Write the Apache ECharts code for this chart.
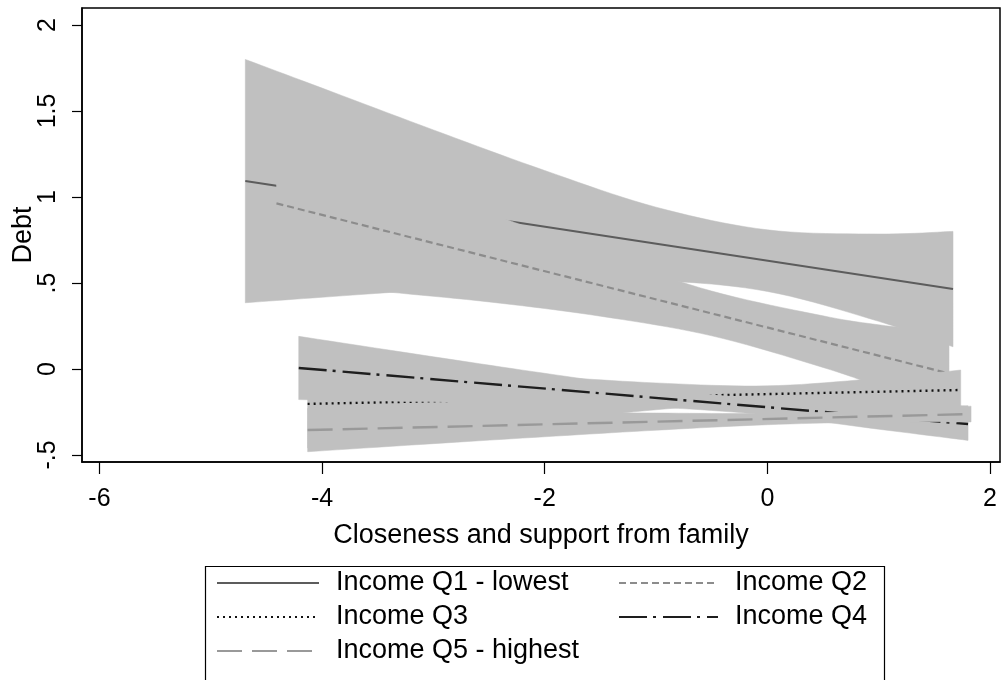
<!DOCTYPE html>
<html>
<head>
<meta charset="utf-8">
<title>Debt by closeness and support from family</title>
<script src="https://cdn.jsdelivr.net/npm/echarts@6/dist/echarts.min.js"></script>
<style>
  html, body { margin: 0; padding: 0; background: #ffffff; }
  #chart { width: 1003px; height: 680px; }
</style>
</head>
<body>
<div id="chart"></div>
<script>
// Axis ticks
const xTicks = [-6, -4, -2, 0, 2];
const xTickLabels = ['-6', '-4', '-2', '0', '2'];
const yTicks = [-0.5, 0, 0.5, 1, 1.5, 2];
const yTickLabels = ['-.5', '0', '.5', '1', '1.5', '2'];

// Income Q1 - lowest: confidence band and fitted line
const q1BandX = [-4.69, -4, -3, -2, -1, 0, 1, 1.668];
const q1Lower = [0.385, 0.417, 0.462, 0.500, 0.513, 0.451, 0.277, 0.129];
const q1Upper = [1.800, 1.633, 1.390, 1.154, 0.941, 0.809, 0.785, 0.800];
const q1FitX = [-4.69, 1.668];
const q1Fit = [1.093, 0.465];

// Income Q2
const q2BandX = [-4.41, -3.5, -2.5, -1.5, -0.5, 0.5, 1.0, 1.632];
const q2Lower = [0.523, 0.454, 0.390, 0.307, 0.193, 0.009, -0.103, -0.261];
const q2Upper = [1.403, 1.174, 0.910, 0.667, 0.453, 0.309, 0.257, 0.209];
const q2FitX = [-4.41, 1.632];
const q2Fit = [0.963, -0.026];

// Income Q3
const q3BandX = [-4.13, -3, -2, -1, 0, 1, 1.737];
const q3Lower = [-0.459, -0.376, -0.304, -0.237, -0.194, -0.210, -0.238];
const q3Upper = [0.053, 0.002, -0.042, -0.081, -0.098, -0.054, -0.006];
const q3FitX = [-4.13, 1.737];
const q3Fit = [-0.203, -0.122];

// Income Q4
const q4BandX = [-4.21, -3, -2, -1, 0, 1, 1.803];
const q4Lower = [-0.178, -0.191, -0.203, -0.222, -0.268, -0.350, -0.415];
const q4Upper = [0.190, 0.071, -0.025, -0.114, -0.176, -0.202, -0.214];
const q4FitX = [-4.21, 1.803];
const q4Fit = [0.006, -0.320];

// Income Q5 - highest
const q5BandX = [-4.13, -3, -2, -1, 0, 1, 1.83];
const q5Lower = [-0.481, -0.434, -0.394, -0.356, -0.324, -0.308, -0.308];
const q5Upper = [-0.229, -0.240, -0.250, -0.256, -0.258, -0.242, -0.216];
const q5FitX = [-4.13, 1.83];
const q5Fit = [-0.355, -0.262];

const FONT = "'Liberation Sans', Arial, Helvetica, sans-serif";
const BAND_COLOR = '#c0c0c0';

const groups = [
  { name: 'Income Q1 - lowest', bx: q1BandX, lo: q1Lower, hi: q1Upper, fx: q1FitX, fy: q1Fit,
    line: { color: '#5c5c5c', width: 2.2, type: 'solid' } },
  { name: 'Income Q2', bx: q2BandX, lo: q2Lower, hi: q2Upper, fx: q2FitX, fy: q2Fit,
    line: { color: '#8c8c8c', width: 2.2, type: [7, 4] } },
  { name: 'Income Q3', bx: q3BandX, lo: q3Lower, hi: q3Upper, fx: q3FitX, fy: q3Fit,
    line: { color: '#111111', width: 2.4, type: [2, 4] } },
  { name: 'Income Q4', bx: q4BandX, lo: q4Lower, hi: q4Upper, fx: q4FitX, fy: q4Fit,
    line: { color: '#1e1e1e', width: 2.4, type: [28, 6, 3, 7] } },
  { name: 'Income Q5 - highest', bx: q5BandX, lo: q5Lower, hi: q5Upper, fx: q5FitX, fy: q5Fit,
    line: { color: '#999999', width: 2.4, type: [25, 10] } }
];

// Catmull-Rom curve through already-projected pixel points, for a smooth band outline
function smoothEdge(pts, steps) {
  const out = [];
  for (let i = 0; i < pts.length - 1; i++) {
    const p0 = pts[Math.max(i - 1, 0)], p1 = pts[i], p2 = pts[i + 1], p3 = pts[Math.min(i + 2, pts.length - 1)];
    for (let s = 0; s < steps; s++) {
      const t = s / steps, t2 = t * t, t3 = t2 * t;
      out.push([
        0.5 * (2 * p1[0] + (-p0[0] + p2[0]) * t + (2 * p0[0] - 5 * p1[0] + 4 * p2[0] - p3[0]) * t2 + (-p0[0] + 3 * p1[0] - 3 * p2[0] + p3[0]) * t3),
        0.5 * (2 * p1[1] + (-p0[1] + p2[1]) * t + (2 * p0[1] - 5 * p1[1] + 4 * p2[1] - p3[1]) * t2 + (-p0[1] + 3 * p1[1] - 3 * p2[1] + p3[1]) * t3)
      ]);
    }
  }
  out.push(pts[pts.length - 1]);
  return out;
}

// Confidence band as one filled polygon: upper edge left to right, lower edge back
function bandRenderer(g) {
  return function (params, api) {
    const up = g.bx.map((x, k) => api.coord([x, g.hi[k]]));
    const lo = g.bx.map((x, k) => api.coord([x, g.lo[k]]));
    const pts = smoothEdge(up, 10).concat(smoothEdge(lo, 10).reverse());
    return {
      type: 'polygon',
      shape: { points: pts },
      style: { fill: BAND_COLOR, stroke: BAND_COLOR, lineWidth: 0.5 }
    };
  };
}

// Each group draws its band, then its fitted line, so later bands overlap earlier lines
const series = [];
groups.forEach((g, i) => {
  series.push({
    type: 'custom', name: g.name + ' band', silent: true, z: 10 + 2 * i,
    renderItem: bandRenderer(g),
    encode: { x: 0, y: 1 },
    data: [[g.bx[0], g.lo[0]]]
  });
  series.push({
    type: 'line', name: g.name, symbol: 'none', silent: true, z: 11 + 2 * i,
    lineStyle: { color: g.line.color, width: g.line.width, type: g.line.type, cap: 'butt' },
    itemStyle: { color: g.line.color },
    data: g.fx.map((x, k) => [x, g.fy[k]])
  });
});

function labelFor(ticks, labels) {
  return function (v) {
    for (let k = 0; k < ticks.length; k++) {
      if (Math.abs(ticks[k] - v) < 1e-9) return labels[k];
    }
    return '';
  };
}

const legendText = { fontFamily: FONT, fontSize: 27, color: '#000', lineHeight: 30, padding: [0, 0, 0, 12] };

const option = {
  animation: false,
  backgroundColor: '#ffffff',
  grid: {
    left: 82, right: 3, top: 8, bottom: 218, outerBoundsMode: 'none', containLabel: false,
    show: true, borderColor: '#000', borderWidth: 1.5, backgroundColor: 'transparent'
  },
  xAxis: {
    type: 'value', min: -6.157, max: 2.09,
    name: 'Closeness and support from family', nameLocation: 'middle', nameGap: 60, nameMoveOverlap: false,
    nameTextStyle: { fontFamily: FONT, fontSize: 27, color: '#000' },
    axisLine: { onZero: false, lineStyle: { color: '#000', width: 1.5 } },
    axisTick: { customValues: xTicks, length: 12, lineStyle: { color: '#000', width: 1.2 } },
    axisLabel: { customValues: xTicks, formatter: labelFor(xTicks, xTickLabels), margin: 25,
      fontFamily: FONT, fontSize: 25, color: '#000' },
    splitLine: { show: false }
  },
  yAxis: {
    type: 'value', min: -0.5407, max: 2.0988,
    name: 'Debt', nameLocation: 'middle', nameGap: 45, nameRotate: 90, nameMoveOverlap: false,
    nameTextStyle: { fontFamily: FONT, fontSize: 27, color: '#000' },
    axisLine: { onZero: false, lineStyle: { color: '#000', width: 1.5 } },
    axisTick: { customValues: yTicks, length: 10, lineStyle: { color: '#000', width: 1.2 } },
    axisLabel: { customValues: yTicks, formatter: labelFor(yTicks, yTickLabels), rotate: 90, margin: 21,
      fontFamily: FONT, fontSize: 25, color: '#000' },
    splitLine: { show: false }
  },
  legend: [
    {
      orient: 'vertical', left: 216, top: 568, padding: 0, itemGap: 4,
      itemWidth: 102, itemHeight: 14, selectedMode: false,
      itemStyle: { opacity: 0 },
      data: ['Income Q1 - lowest', 'Income Q3', 'Income Q5 - highest'],
      textStyle: legendText
    },
    {
      orient: 'vertical', left: 618, top: 568, padding: 0, itemGap: 4,
      itemWidth: 99, itemHeight: 14, selectedMode: false,
      itemStyle: { opacity: 0 },
      data: ['Income Q2', 'Income Q4'],
      textStyle: legendText
    }
  ],
  graphic: [
    { type: 'rect', silent: true, z: 0,
      shape: { x: 205.5, y: 566.5, width: 679, height: 140 },
      style: { fill: 'none', stroke: '#000', lineWidth: 1.2 } }
  ],
  series: series
};

const chart = echarts.init(document.getElementById('chart'), null, { renderer: 'canvas' });
chart.setOption(option);
</script>
</body>
</html>
